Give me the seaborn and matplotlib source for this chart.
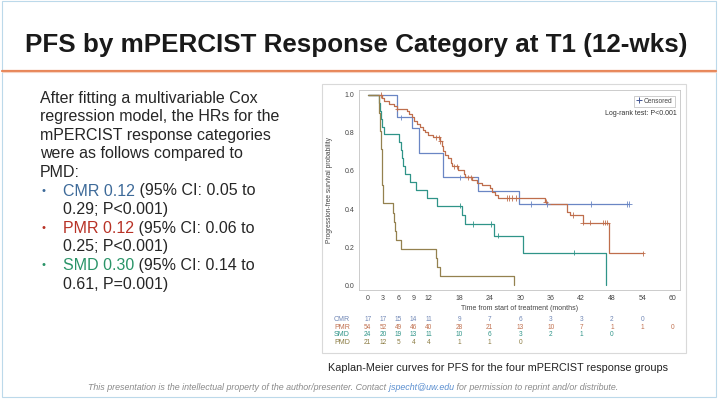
import numpy as np
import pandas as pd
import matplotlib
matplotlib.use('Agg')
import matplotlib.pyplot as plt
import matplotlib.transforms as mtransforms
from matplotlib.lines import Line2D
from matplotlib.patches import Rectangle
import seaborn as sns

# Kaplan-Meier step curves (time in months, PFS probability)
cmr_t = [0, 5.8, 8.8, 10.0, 14.9, 21.7, 29.8, 51.4]
cmr_s = [1.0, 0.883, 0.824, 0.692, 0.567, 0.497, 0.426, 0.426]
cmr_cens = [6.5, 18.2, 32.1, 35.3, 44.0, 50.9, 51.4]

pmr_t = [0, 2.9, 3.3, 4.1, 5.1, 5.7, 7.7, 8.2, 8.7, 9.2, 9.7, 10.2, 10.8, 11.3,
         11.9, 12.8, 14.3, 14.6, 14.9, 15.3, 15.7, 16.3, 16.5, 17.8, 19.0, 19.2,
         20.5, 21.5, 22.4, 24.0, 24.5, 25.0, 25.7, 34.8, 35.3, 39.1, 39.7, 42.3,
         47.4, 54.1]
pmr_s = [1.0, 0.984, 0.967, 0.953, 0.94, 0.928, 0.917, 0.9, 0.882, 0.865, 0.847,
         0.83, 0.818, 0.805, 0.79, 0.777, 0.756, 0.73, 0.707, 0.686, 0.668, 0.642,
         0.625, 0.607, 0.584, 0.567, 0.55, 0.537, 0.525, 0.509, 0.49, 0.475, 0.458,
         0.439, 0.424, 0.386, 0.368, 0.328, 0.167, 0.167]
pmr_cens = [2.6, 5.8, 13.5, 14.0, 14.3, 17.0, 17.5, 19.7, 20.3, 27.3, 27.8, 28.4,
            29.1, 35.0, 40.4, 42.3, 43.8, 46.3, 46.7, 47.1, 54.1]

smd_t = [0, 2.2, 2.4, 2.6, 2.9, 3.3, 6.2, 6.5, 6.8, 7.0, 7.3, 8.3, 9.6, 11.7,
         13.7, 18.5, 19.1, 24.8, 30.5, 46.9]
smd_s = [1.0, 0.958, 0.917, 0.875, 0.833, 0.792, 0.75, 0.708, 0.667, 0.625, 0.583,
         0.542, 0.5, 0.458, 0.417, 0.371, 0.321, 0.26, 0.17, 0.0]
smd_cens = [18.1, 20.8, 24.3, 25.6, 40.5]

pmd_t = [0, 2.2, 2.3, 2.4, 2.5, 2.6, 2.7, 2.75, 2.8, 2.85, 2.9, 3.0, 3.1, 4.9,
         5.2, 5.4, 5.6, 6.5, 13.4, 13.7, 14.3, 28.8]
pmd_s = [1.0, 0.952, 0.905, 0.857, 0.81, 0.762, 0.714, 0.667, 0.619, 0.571, 0.524,
         0.476, 0.429, 0.381, 0.333, 0.286, 0.238, 0.19, 0.143, 0.095, 0.048, 0.0]
pmd_cens = []

groups = ['CMR', 'PMR', 'SMD', 'PMD']
curves = {'CMR': (cmr_t, cmr_s, cmr_cens), 'PMR': (pmr_t, pmr_s, pmr_cens),
          'SMD': (smd_t, smd_s, smd_cens), 'PMD': (pmd_t, pmd_s, pmd_cens)}
line_colors = {'CMR': '#6a86c4', 'PMR': '#bf6e4c', 'SMD': '#2f9488', 'PMD': '#94814f'}

# number at risk table
risk_times = [0, 3, 6, 9, 12, 18, 24, 30, 36, 42, 48, 54, 60]
risk_cmr = [17, 17, 15, 14, 11, 9, 7, 6, 3, 3, 2, 0]
risk_pmr = [54, 52, 49, 46, 40, 28, 21, 13, 10, 7, 1, 1, 0]
risk_smd = [24, 20, 19, 13, 11, 10, 6, 3, 2, 1, 0]
risk_pmd = [21, 12, 5, 4, 4, 1, 1, 0]
risk = {'CMR': risk_cmr, 'PMR': risk_pmr, 'SMD': risk_smd, 'PMD': risk_pmd}

# slide text
title = 'PFS by mPERCIST Response Category at T1 (12-wks)'
intro_lines = ['After fitting a multivariable Cox', 'regression model, the HRs for the',
               'mPERCIST response categories', 'were as follows compared to', 'PMD:']
hr_labels = ['CMR 0.12', 'PMR 0.12', 'SMD 0.30']
hr_rest = [' (95% CI: 0.05 to', ' (95% CI: 0.06 to', ' (95% CI: 0.14 to']
hr_second = ['0.29; P<0.001)', '0.25; P<0.001)', '0.61, P=0.001)']
hr_colors = ['#3d6a99', '#b83226', '#2a9468']
caption = 'Kaplan-Meier curves for PFS for the four mPERCIST response groups'

# long-form tables for seaborn
km = pd.concat([pd.DataFrame({'time': curves[g][0], 'surv': curves[g][1], 'group': g})
                for g in groups], ignore_index=True)
cens_rows = []
for g in groups:
    t, s, c = curves[g]
    for ct in c:
        idx = np.searchsorted(t, ct, side='right') - 1
        cens_rows.append({'time': ct, 'surv': s[idx], 'group': g})
cens = pd.DataFrame(cens_rows)

sns.set_style('white')
plt.rcParams['font.family'] = ['Liberation Sans', 'DejaVu Sans']

fig = plt.figure(figsize=(7.2, 4), dpi=100)
fig.patch.set_facecolor('white')

# background axes in pixel units for slide layout
bg = fig.add_axes([0, 0, 1, 1], zorder=0)
bg.set_xlim(0, 720)
bg.set_ylim(400, 0)
bg.axis('off')

# slide frame and title rule
bg.add_patch(Rectangle((2, 1), 714, 396, fill=False, ec='#bcd9ea', lw=0.8))
bg.axhline(70.5, xmin=2 / 720, xmax=716 / 720, color='#e8875a', lw=1.6)
bg.axhline(72, xmin=2 / 720, xmax=716 / 720, color='#f6d3c3', lw=0.8)
bg.text(25, 45, title, fontsize=18.7, fontweight='bold', color='#1a1a1a',
        ha='left', va='center')

# left text block
y0, dy = 98, 18.6
txt_color = '#262626'
fs = 11.5
for i, line in enumerate(intro_lines):
    bg.text(40, y0 + dy * i, line, fontsize=fs, color=txt_color, va='center')
for j in range(3):
    ya = y0 + dy * (5 + 2 * j)
    bg.text(43, ya, '•', fontsize=8, color=hr_colors[j], va='center', ha='center')
    t1 = bg.text(63, ya, hr_labels[j], fontsize=fs, color=hr_colors[j], va='center')
    bg.annotate(hr_rest[j], xy=(1, 0), xycoords=t1, fontsize=fs, color=txt_color,
                va='bottom', ha='left')
    bg.text(63, ya + dy, hr_second[j], fontsize=fs, color=txt_color, va='center')

# chart image box
bg.add_patch(Rectangle((322, 84), 364, 269, fill=False, ec='#d9d9d9', lw=0.8))

# KM axes
ax = fig.add_axes([359 / 720, 1 - 290 / 400, 321 / 720, 200 / 400], zorder=2)
ax.set_facecolor('white')
sns.lineplot(data=km, x='time', y='surv', hue='group', palette=line_colors,
             estimator=None, sort=False, drawstyle='steps-post', lw=0.9,
             legend=False, ax=ax)
sns.scatterplot(data=cens, x='time', y='surv', hue='group', palette=line_colors,
                marker='+', s=14, linewidth=0.6, legend=False, ax=ax, zorder=3)
ax.set_xlim(-1.7, 61.4)
ax.set_ylim(-0.026, 1.026)
ax.set_xticks(risk_times)
ax.set_yticks([0, 0.2, 0.4, 0.6, 0.8, 1.0])
ax.set_yticklabels(['0.0', '0.2', '0.4', '0.6', '0.8', '1.0'])
ax.tick_params(labelsize=5, length=2, width=0.5, color='#999999',
               labelcolor='#444444', pad=1.5)
for sp in ax.spines.values():
    sp.set_color('#c4c4c4')
    sp.set_linewidth(0.6)
ax.set_ylabel('Progression-free survival probability', fontsize=4.8, color='#444444')
ax.yaxis.set_label_coords((333 - 359) / 321, 0.5)
ax.set_xlabel('Time from start of treatment (months)', fontsize=5, color='#444444')
ax.xaxis.label.set_va('center')
ax.xaxis.set_label_coords(0.5, (290 - 308.5) / 200)

leg = ax.legend(handles=[Line2D([], [], marker='+', color='#445694', ls='', ms=4, mew=0.7)],
                labels=['Censored'], loc='upper right', bbox_to_anchor=(678, 92.5),
                bbox_transform=bg.transData, fontsize=4.8, frameon=True, fancybox=False,
                borderpad=0.3, handlelength=0.8, handletextpad=0.4, framealpha=1)
leg.get_frame().set_edgecolor('#bbbbbb')
leg.get_frame().set_linewidth(0.5)
for t in leg.get_texts():
    t.set_color('#444444')
ax.text(677, 113.5, 'Log-rank test: P<0.001', transform=bg.transData, fontsize=5,
        color='#333333', ha='right', va='center')

# number at risk rows
trans = mtransforms.blended_transform_factory(ax.transData, bg.transData)
risk_colors = {'CMR': '#6f86b5', 'PMR': '#c0704f', 'SMD': '#2f9488', 'PMD': '#8a7a40'}
row_y = [319.5, 327.2, 334.9, 342.6]
for g, ry in zip(groups, row_y):
    bg.text(350, ry, g, fontsize=5, color=risk_colors[g], ha='right', va='center')
    for rt, n in zip(risk_times, risk[g]):
        ax.text(rt, ry, str(n), transform=trans, fontsize=4.7, color=risk_colors[g],
                ha='center', va='center', clip_on=False)

# caption and footer
bg.text(498, 368, caption, fontsize=7.8, color='#222222', ha='center', va='center')
f1 = bg.text(88, 388, 'This presentation is the intellectual property of the author/presenter. Contact ',
             fontsize=6.4, style='italic', color='#8a8a8a', va='center')
f2 = bg.annotate('jspecht@uw.edu', xy=(1, 0), xycoords=f1, fontsize=6.4, style='italic',
                 color='#5b8fd0', va='bottom')
bg.annotate(' for permission to reprint and/or distribute.', xy=(1, 0), xycoords=f2,
            fontsize=6.4, style='italic', color='#8a8a8a', va='bottom')

fig.savefig('out.png', dpi=100)
